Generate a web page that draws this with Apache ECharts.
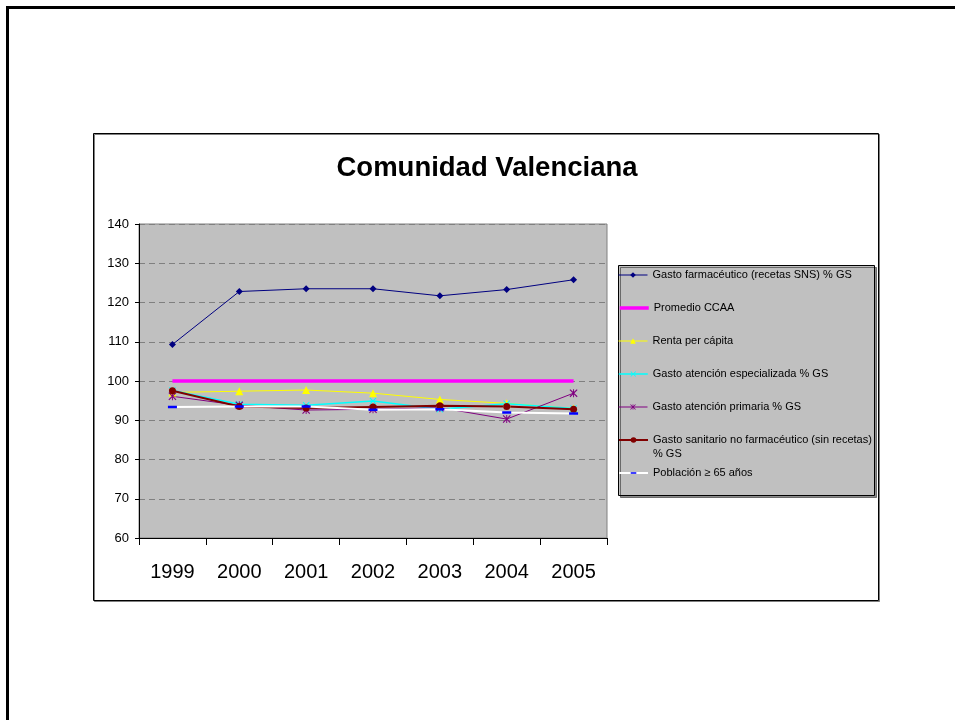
<!DOCTYPE html>
<html>
<head>
<meta charset="utf-8">
<script src="https://cdn.jsdelivr.net/npm/echarts@6/dist/echarts.min.js"></script>
<style>
  html, body { margin: 0; padding: 0; background: #fff; }
  #chart { width: 955px; height: 720px; }
</style>
</head>
<body>
<div id="chart"></div>
<script>
const years = ['1999', '2000', '2001', '2002', '2003', '2004', '2005'];

const farmaceutico = [109.3, 122.8, 123.5, 123.5, 121.7, 123.3, 125.8];
const promedio = [100, 100, 100, 100, 100, 100, 100];
const renta = [97.1, 97.4, 97.7, 96.9, 95.3, 94.3, 93.0];
const especializada = [97.6, 94.1, 93.8, 94.9, 92.8, 94.2, 93.0];
const primaria = [96.1, 93.8, 92.6, 92.8, 93.2, 90.3, 96.9];
const noFarmaceutico = [97.5, 93.5, 93.1, 93.4, 93.7, 93.5, 92.8];
const poblacion = [93.4, 93.5, 93.5, 92.7, 92.8, 92.0, 91.7];

const yTicks = { min: 60, max: 140, step: 10 };

const FONT = 'Arial, "Liberation Sans", sans-serif';
const CROSS = 'path://M0,1 L1,0 L5,4 L9,0 L10,1 L6,5 L10,9 L9,10 L5,6 L1,10 L0,9 L4,5 Z';
const STAR = CROSS + ' M4.4,0 L5.6,0 L5.6,10 L4.4,10 Z';
// flat dash; the hair-thin slivers top and bottom keep the box square so it is not stretched
const DASH = 'path://M0,0 L10,0 L10,0.01 L0,0.01 Z M0,3.6 L10,3.6 L10,6.4 L0,6.4 Z M0,9.99 L10,9.99 L10,10 L0,10 Z';

const seriesDefs = [
  { name: 'Gasto farmacéutico (recetas SNS) % GS', data: farmaceutico, color: '#000080', width: 1, symbol: 'diamond', size: 7 },
  { name: 'Promedio CCAA', data: promedio, color: '#ff00ff', width: 3.5, symbol: 'none', size: 0 },
  { name: 'Renta per cápita', data: renta, color: '#ffff00', width: 1, symbol: 'triangle', size: 8 },
  { name: 'Gasto atención especializada % GS', data: especializada, color: '#00ffff', width: 1.5, symbol: CROSS, size: 7 },
  { name: 'Gasto atención primaria % GS', data: primaria, color: '#800080', width: 1, symbol: STAR, size: 8 },
  { name: 'Gasto sanitario no farmacéutico (sin recetas)\n% GS', data: noFarmaceutico, color: '#800000', width: 2, symbol: 'circle', size: 7 },
  { name: 'Población ≥ 65 años', data: poblacion, color: '#ffffff', width: 2, symbol: DASH, size: 9, markColor: '#0000ff' }
];

// legend row centres (px)
const legendRows = [275, 308, 341, 374, 407, 440, 473];

const chart = echarts.init(document.getElementById('chart'), null, { renderer: 'canvas' });

function legendFor(s, i) {
  const twoLines = s.name.indexOf('\n') >= 0;
  const item = { name: s.name };
  if (s.symbol === 'none') item.itemStyle = { opacity: 0 };
  return {
    data: [item],
    left: 618,
    top: legendRows[i] - (twoLines ? 21 : 7),
    padding: 0,
    orient: 'vertical',
    itemWidth: 29,
    itemHeight: 7,
    itemGap: 0,
    selectedMode: false,
    // an empty first line keeps the icon level with the first line of text
    formatter: twoLines ? (n) => ' \n' + n : '{name}',
    lineStyle: { width: s.width },
    textStyle: { fontFamily: FONT, fontSize: 11, color: '#000', lineHeight: 14 }
  };
}

chart.setOption({
  animation: false,
  backgroundColor: '#ffffff',
  textStyle: { fontFamily: FONT },
  title: {
    text: 'Comunidad Valenciana',
    left: 487,
    top: 154,
    padding: 0,
    textAlign: 'center',
    textStyle: { fontFamily: FONT, fontSize: 27.5, fontWeight: 'bold', color: '#000' }
  },
  graphic: [
    { type: 'rect', shape: { x: 7.5, y: 7.5, width: 1000, height: 800 },
      style: { fill: 'none', stroke: '#000', lineWidth: 3 } },
    { type: 'rect', shape: { x: 93.5, y: 133.5, width: 785, height: 467 },
      style: { fill: 'none', stroke: '#000', lineWidth: 1, shadowColor: 'rgba(0,0,0,0.5)', shadowOffsetX: 1, shadowOffsetY: 1 } },
    { type: 'rect', shape: { x: 618.5, y: 265.5, width: 256, height: 230 },
      style: { fill: '#c0c0c0', stroke: '#000', lineWidth: 1, shadowColor: 'rgba(0,0,0,0.45)', shadowOffsetX: 2, shadowOffsetY: 2 } }
  ],
  legend: seriesDefs.map(legendFor),
  grid: {
    left: 139, top: 224, width: 468, height: 314,
    show: true, backgroundColor: '#c0c0c0', borderColor: '#808080', borderWidth: 1
  },
  xAxis: {
    type: 'category',
    data: years,
    boundaryGap: true,
    axisLine: { lineStyle: { color: '#000', width: 1 } },
    axisTick: { show: true, length: 7, inside: false, lineStyle: { color: '#000' } },
    axisLabel: { fontFamily: FONT, fontSize: 20, color: '#000', margin: 24 },
    splitLine: { show: false }
  },
  yAxis: {
    type: 'value',
    min: yTicks.min,
    max: yTicks.max,
    interval: yTicks.step,
    axisLine: { show: true, lineStyle: { color: '#000', width: 1 } },
    axisTick: { show: true, length: 4, lineStyle: { color: '#000' } },
    axisLabel: { fontFamily: FONT, fontSize: 13, color: '#000', margin: 10 },
    splitLine: { show: true, lineStyle: { color: '#808080', type: [6, 4], width: 1 } }
  },
  series: seriesDefs.map(s => ({
    name: s.name,
    type: 'line',
    data: s.data,
    symbol: s.symbol,
    symbolSize: s.size,
    showSymbol: s.symbol !== 'none',
    lineStyle: { color: s.color, width: s.width },
    itemStyle: { color: s.markColor || s.color, borderWidth: 0 },
    emphasis: { disabled: true }
  }))
});
</script>
</body>
</html>
